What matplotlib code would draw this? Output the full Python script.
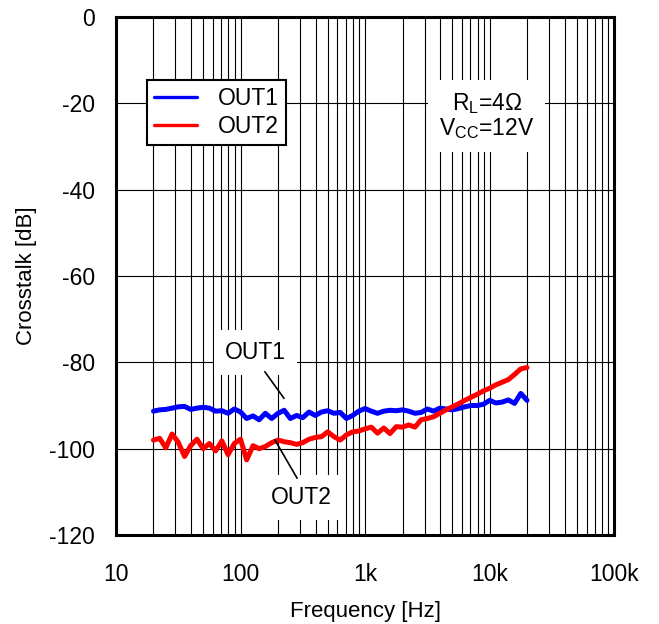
import matplotlib
matplotlib.use("Agg")
import matplotlib.pyplot as plt
from matplotlib.ticker import FixedLocator, NullFormatter, LogLocator

plt.rcParams['font.family'] = ['Liberation Sans', 'DejaVu Sans']
plt.rcParams['mathtext.fontset'] = 'custom'
plt.rcParams['mathtext.rm'] = 'Liberation Sans'

# frequency points [Hz]
freq = [20.0, 22.4, 25.1, 28.2, 31.6, 35.5, 39.8, 44.7, 50.1, 56.2,
        63.1, 70.8, 79.4, 89.1, 100, 112, 126, 141, 158, 178,
        200, 224, 251, 282, 316, 355, 398, 447, 501, 562,
        631, 708, 794, 891, 1000, 1122, 1259, 1413, 1585, 1778,
        1995, 2239, 2512, 2818, 3162, 3548, 3981, 4467, 5012, 5623,
        6310, 7079, 7943, 8913, 10000, 11220, 12589, 14125, 15849, 17783,
        19953]
# crosstalk OUT1 [dB]
out1 = [-91.3, -91.0, -90.9, -90.6, -90.3, -90.2, -90.9, -90.6, -90.4, -90.6,
        -91.3, -91.2, -91.8, -90.8, -91.5, -93.0, -92.4, -93.3, -91.8, -93.0,
        -91.8, -91.1, -93.0, -92.3, -92.8, -91.5, -92.3, -91.5, -91.2, -91.8,
        -91.6, -93.0, -92.3, -91.3, -90.7, -91.3, -91.8, -91.3, -91.1, -91.2,
        -91.0, -91.3, -91.8, -91.6, -90.8, -91.3, -90.6, -90.8, -91.0, -90.7,
        -90.3, -90.0, -90.0, -89.7, -88.8, -89.4, -89.2, -88.7, -89.5, -87.2,
        -88.8]
# crosstalk OUT2 [dB]
out2 = [-98.0, -97.6, -99.8, -96.6, -98.5, -101.8, -99.3, -97.8, -100.0, -98.8,
        -100.5, -98.2, -101.4, -98.8, -97.8, -102.6, -99.3, -100.0, -99.5, -98.6,
        -98.0, -98.4, -98.6, -99.0, -98.6, -97.8, -97.4, -97.2, -96.1, -97.2,
        -98.0, -96.8, -96.1, -95.9, -95.4, -95.0, -96.4, -95.2, -96.5, -94.9,
        -95.0, -94.5, -95.0, -93.3, -93.0, -92.6, -91.8, -91.0, -90.3, -89.6,
        -88.8, -88.1, -87.4, -86.6, -86.0, -85.2, -84.6, -84.0, -82.8, -81.5,
        -81.2]

x_ticks = [10, 100, 1000, 10000, 100000]
x_labels = ["10", "100", "1k", "10k", "100k"]
y_ticks = [0, -20, -40, -60, -80, -100, -120]

fig = plt.figure(figsize=(6.59, 6.24), dpi=100)
ax = fig.add_axes([0.176, 0.1426, 0.756, 0.830])

ax.semilogx(freq, out1, color='#0000ff', lw=3.6, solid_capstyle='round', label='OUT1', zorder=3)
ax.semilogx(freq, out2, color='#ff0000', lw=3.6, solid_capstyle='round', label='OUT2', zorder=3)

ax.set_xlim(10, 100000)
ax.set_ylim(-120, 0)
ax.set_xticks(x_ticks)
ax.set_xticklabels(x_labels)
ax.xaxis.set_minor_locator(LogLocator(base=10, subs=range(2, 10)))
ax.xaxis.set_minor_formatter(NullFormatter())
ax.yaxis.set_major_locator(FixedLocator(y_ticks))
ax.set_yticklabels([str(v) for v in y_ticks])

ax.grid(True, which='both', axis='x', color='black', lw=0.8)
ax.grid(True, which='major', axis='y', color='black', lw=0.8)
ax.tick_params(which='both', length=0, labelsize=16.5)
ax.tick_params(axis='x', pad=20)
ax.tick_params(axis='y', pad=15)
for s in ax.spines.values():
    s.set_linewidth(2.2)

ax.set_xlabel('Frequency [Hz]', fontsize=16, labelpad=11)
ax.set_ylabel('Crosstalk [dB]', fontsize=16, labelpad=9)

leg = ax.legend(loc='upper left', bbox_to_anchor=(0.062, 0.878), fontsize=16.5,
                handlelength=1.9, handletextpad=0.9, borderpad=0.3, borderaxespad=0,
                labelspacing=0.2, fancybox=False, framealpha=1, edgecolor='black')
leg.get_frame().set_linewidth(1.5)
for line in leg.get_lines():
    line.set_linewidth(2.4)

# condition text
ax.text(9500, -23.0, 'R$_\\mathrm{L}$=4\u03a9\nV$_\\mathrm{CC}$=12V', fontsize=16.5,
        ha='center', va='center', linespacing=1.0,
        bbox=dict(facecolor='white', edgecolor='none', pad=8), zorder=4)

# curve callouts
ax.text(131, -77.6, 'OUT1', fontsize=16.5, ha='center', va='center',
        bbox=dict(facecolor='white', edgecolor='none', pad=8), zorder=4)
ax.plot([157, 223], [-82.2, -88.3], color='black', lw=1.2, zorder=4)
ax.text(306, -111.2, 'OUT2', fontsize=16.5, ha='center', va='center',
        bbox=dict(facecolor='white', edgecolor='none', pad=8), zorder=4)
ax.plot([189, 284], [-98.0, -106.8], color='black', lw=1.2, zorder=4)

fig.savefig('out.png', dpi=100)
